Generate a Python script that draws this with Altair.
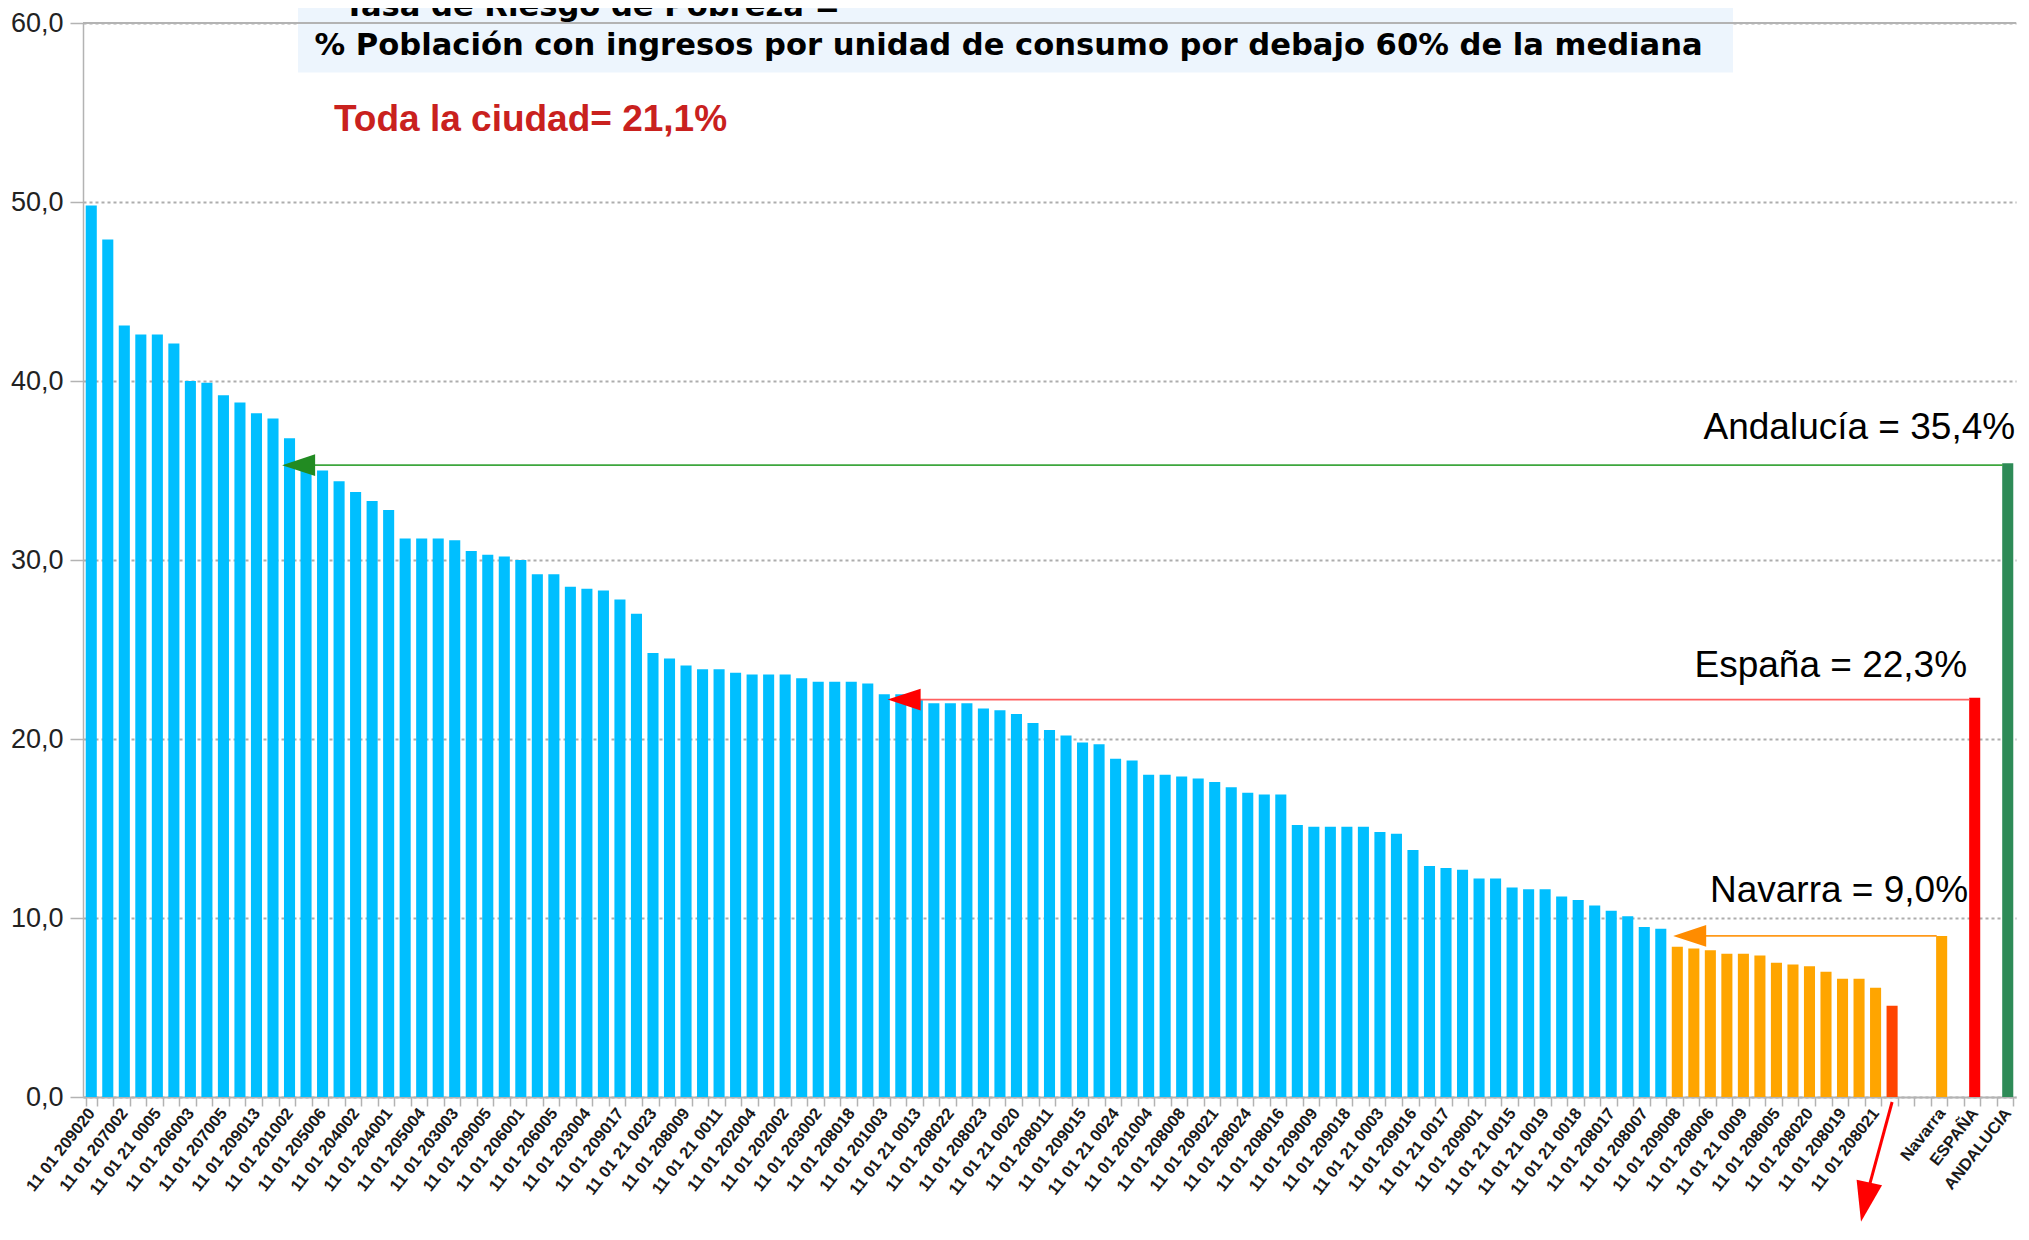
import json
import altair as alt
import pandas as pd

# ------------------------------------------------------------------ data
blue_values = [49.8, 47.9, 43.1, 42.6, 42.6, 42.1, 40.0, 39.9, 39.2, 38.8,
               38.2, 37.9, 36.8, 35.3, 35.0, 34.4, 33.8, 33.3, 32.8, 31.2,
               31.2, 31.2, 31.1, 30.5, 30.3, 30.2, 30.0, 29.2, 29.2, 28.5,
               28.4, 28.3, 27.8, 27.0, 24.8, 24.5, 24.1, 23.9, 23.9, 23.7,
               23.6, 23.6, 23.6, 23.4, 23.2, 23.2, 23.2, 23.1, 22.5, 22.5,
               22.2, 22.0, 22.0, 22.0, 21.7, 21.6, 21.4, 20.9, 20.5, 20.2,
               19.8, 19.7, 18.9, 18.8, 18.0, 18.0, 17.9, 17.8, 17.6, 17.3,
               17.0, 16.9, 16.9, 15.2, 15.1, 15.1, 15.1, 15.1, 14.8, 14.7,
               13.8, 12.9, 12.8, 12.7, 12.2, 12.2, 11.7, 11.6, 11.6, 11.2,
               11.0, 10.7, 10.4, 10.1, 9.5, 9.4]
orange_values = [8.4, 8.3, 8.2, 8.0, 8.0, 7.9, 7.5, 7.4, 7.3, 7.0, 6.6, 6.6, 6.1]
lowest_value = [5.1]
reference_names = ["Navarra", "ESPAÑA", "ANDALUCIA"]
reference_values = [9.0, 22.3, 35.4]
reference_colors = ["#FFA500", "#FF0000", "#2E8B57"]

# labels shown under every other section bar
section_labels = [
    "11 01 209020", "11 01 207002", "11 01 21 0005", "11 01 206003", "11 01 207005",
    "11 01 209013", "11 01 201002", "11 01 205006", "11 01 204002", "11 01 204001",
    "11 01 205004", "11 01 203003", "11 01 209005", "11 01 206001", "11 01 206005",
    "11 01 203004", "11 01 209017", "11 01 21 0023", "11 01 208009", "11 01 21 0011",
    "11 01 202004", "11 01 202002", "11 01 203002", "11 01 208018", "11 01 201003",
    "11 01 21 0013", "11 01 208022", "11 01 208023", "11 01 21 0020", "11 01 208011",
    "11 01 209015", "11 01 21 0024", "11 01 201004", "11 01 208008", "11 01 209021",
    "11 01 208024", "11 01 208016", "11 01 209009", "11 01 209018", "11 01 21 0003",
    "11 01 209016", "11 01 21 0017", "11 01 209001", "11 01 21 0015", "11 01 21 0019",
    "11 01 21 0018", "11 01 208017", "11 01 208007", "11 01 209008", "11 01 208006",
    "11 01 21 0009", "11 01 208005", "11 01 208020", "11 01 208019", "11 01 208021",
]

BLUE, ORANGE, LOWEST = "#00BFFF", "#FFA500", "#FF4500"

# ------------------------------------------------------------------ slots
rows = []
slot = 0
for v in blue_values:
    rows.append({"slot": slot, "value": v, "color": BLUE}); slot += 1
for v in orange_values:
    rows.append({"slot": slot, "value": v, "color": ORANGE}); slot += 1
for v in lowest_value:
    rows.append({"slot": slot, "value": v, "color": LOWEST}); slot += 1
slot += 2  # two empty slots
ref_slots = []
for name, v, c in zip(reference_names, reference_values, reference_colors):
    rows.append({"slot": slot, "value": v, "color": c})
    ref_slots.append(slot)
    slot += 2
N = slot - 1  # 117 slots
bars_df = pd.DataFrame(rows)

labels = [""] * N
for k, lab in enumerate(section_labels):
    labels[2 * k] = lab
for name, s in zip(reference_names, ref_slots):
    labels[s] = name
label_expr = json.dumps(labels, ensure_ascii=False) + "[datum.value]"

# ------------------------------------------------------------------ layout
PW, PH = 1933, 1074
yscale = alt.Scale(domain=[0, 60], nice=False, zero=False)
qscale = alt.Scale(domain=[0, N], nice=False, zero=False)
y_axis = alt.Axis(title=None, values=[0, 10, 20, 30, 40, 50, 60],
                  labelExpr="replace(format(datum.value, '.1f'), '.', ',')",
                  labelFont="Liberation Sans",
                  labelFontSize=27, labelColor="#222222", labelPadding=7,
                  tickSize=13, tickColor="#b3b3b3", tickWidth=1.5,
                  domainColor="#b3b3b3", domainWidth=1.5,
                  grid=True, gridColor="#adadad", gridDash=[3, 3], gridWidth=2)

bars = alt.Chart(bars_df).mark_bar().encode(
    x=alt.X("slot:O",
            scale=alt.Scale(domain=list(range(N)), paddingInner=0.33, paddingOuter=0.165),
            axis=alt.Axis(title=None, labelExpr=label_expr, labelAngle=308,
                          labelAlign="right", labelBaseline="middle",
                          labelFont="Liberation Sans",
                          labelFontSize=16.5, labelFontWeight="bold", labelColor="#1a1a1a",
                          labelPadding=4, labelOverlap=False, labelLimit=400,
                          tickBand="extent", tickSize=9, tickColor="#b3b3b3", tickWidth=1.5,
                          domainColor="#b3b3b3", domainWidth=2, grid=False)),
    y=alt.Y("value:Q", scale=yscale, axis=y_axis),
    color=alt.Color("color:N", scale=None),
)

# top border line at 60
top_df = pd.DataFrame({"x1": [0], "x2": [N], "y": [60]})
top_line = alt.Chart(top_df).mark_rule(color="#b3b3b3", strokeWidth=2).encode(
    x=alt.X("x1:Q", scale=qscale, axis=None), x2="x2:Q",
    y=alt.Y("y:Q", scale=yscale, axis=y_axis))

# reference arrows (positions in slot units / data values)
arrow_names = ["Andalucía", "España", "Navarra"]
arrow_tip = [12.05, 48.7, 96.25]
arrow_level = [35.3, 22.2, 9.0]
arrow_end = [116.2, 114.2, 112.2]
arrow_line_color = ["#3DA63D", "#FF6060", "#FF9A1A"]
arrow_head_color = ["#228B22", "#FF0000", "#FF8C00"]

LEFT_TRI = "M -1 0 L 1 -0.66 L 1 0.66 Z"
DOWN_TRI = "M 0 1 L -0.65 -1 L 0.65 -1 Z"

layers_ann = []
for tip, lvl, end, lc, hc in zip(arrow_tip, arrow_level, arrow_end,
                                 arrow_line_color, arrow_head_color):
    d = pd.DataFrame({"x1": [tip + 1.0], "x2": [end], "y": [lvl], "hx": [tip + 1.0]})
    layers_ann.append(alt.Chart(d).mark_rule(color=lc, strokeWidth=1.6).encode(
        x=alt.X("x1:Q", scale=qscale, axis=None), x2="x2:Q",
        y=alt.Y("y:Q", scale=yscale, axis=y_axis)))
    layers_ann.append(alt.Chart(d).mark_point(shape=LEFT_TRI, filled=True, size=1089,
                                               color=hc, opacity=1, strokeWidth=0).encode(
        x=alt.X("hx:Q", scale=qscale, axis=None),
        y=alt.Y("y:Q", scale=yscale, axis=y_axis)))

# red diagonal arrow below the lowest section
diag = pd.DataFrame({"x1": [109.5], "y1": [-0.28], "x2": [108.05], "y2": [-5.2],
                     "hx": [107.87], "hy": [-5.87]})
layers_ann.append(alt.Chart(diag).mark_rule(color="#FF0000", strokeWidth=3).encode(
    x=alt.X("x1:Q", scale=qscale, axis=None), x2="x2:Q",
    y=alt.Y("y1:Q", scale=yscale, axis=y_axis), y2="y2:Q"))
layers_ann.append(alt.Chart(diag).mark_point(shape=DOWN_TRI, filled=True, size=1600, angle=12,
                                              color="#FF0000", opacity=1, strokeWidth=0).encode(
    x=alt.X("hx:Q", scale=qscale, axis=None),
    y=alt.Y("hy:Q", scale=yscale, axis=y_axis)))

# annotation texts
ann_text = ["Andalucía = 35,4%", "España = 22,3%", "Navarra = 9,0%"]
ann_x = [116.95, 114.04, 114.1]
ann_y = [36.76, 23.46, 10.87]
txt_df = pd.DataFrame({"t": ann_text, "x": ann_x, "y": ann_y})
texts = alt.Chart(txt_df).mark_text(align="right", baseline="alphabetic", fontSize=37,
                                    font="Liberation Sans", color="black").encode(
    x=alt.X("x:Q", scale=qscale, axis=None),
    y=alt.Y("y:Q", scale=yscale, axis=y_axis),
    text="t:N")

# title box and texts
one = pd.DataFrame({"a": [0]})
title_box = alt.Chart(one).mark_rect(color="#EDF5FD").encode(
    x=alt.value(215), x2=alt.value(1650), y=alt.value(-23), y2=alt.value(49.5))
title1 = alt.Chart(one).mark_text(align="left", baseline="alphabetic", fontSize=30.6,
                                  font="DejaVu Sans", fontWeight="bold", color="black",
                                  text="Tasa de Riesgo de Pobreza =").encode(
    x=alt.value(261), y=alt.value(-7))
title2 = alt.Chart(one).mark_text(align="left", baseline="alphabetic", fontSize=30.6,
                                  font="DejaVu Sans", fontWeight="bold", color="black",
                                  text="% Población con ingresos por unidad de consumo por debajo 60% de la mediana").encode(
    x=alt.value(231.5), y=alt.value(32))
city = alt.Chart(one).mark_text(align="left", baseline="alphabetic", fontSize=37,
                                font="Liberation Sans", fontWeight="bold", color="#C9211E",
                                text="Toda la ciudad= 21,1%").encode(
    x=alt.value(251), y=alt.value(108))

chart = alt.layer(
    title_box, bars, top_line, *layers_ann, texts, title1, title2, city
).resolve_scale(x="independent").properties(
    width=PW, height=PH,
    padding={"left": 75, "top": 15, "right": 2, "bottom": 126},
    autosize=alt.AutoSizeParams(type="none"),
    background="white",
).configure_view(stroke=None)

chart.save("out.html", embed_options={"renderer": "svg", "actions": False})
